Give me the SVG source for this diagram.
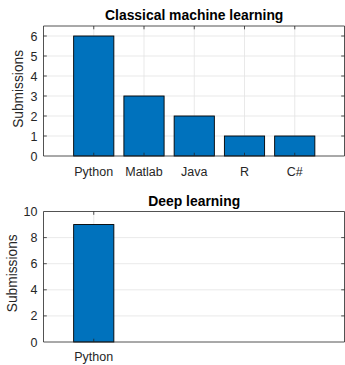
<svg xmlns="http://www.w3.org/2000/svg" width="345" height="365" viewBox="0 0 345 365">
<style>
.grid{stroke:#e3e3e3;stroke-width:0.8;fill:none}
.axis{stroke:#262626;stroke-width:0.8;fill:none}
.bar{fill:#0072BD;stroke:#000;stroke-width:0.9}
.tick{font-family:"Liberation Sans",Arial,sans-serif;font-size:12.5px;fill:#262626}
.title{font-family:"Liberation Sans",Arial,sans-serif;font-size:13.9px;font-weight:bold;fill:#000;text-anchor:middle}
.lab{font-family:"Liberation Sans",Arial,sans-serif;font-size:13.75px;fill:#262626;text-anchor:middle}
</style>
<rect width="345" height="365" fill="#fff"/>

<g id="chart-classical">
  <g id="grid-top">
    <path class="grid" d="M43.5 136H345M43.5 116H345M43.5 96H345M43.5 76H345M43.5 56H345M43.5 36H345M93.75 26V156M144 26V156M194.25 26V156M244.5 26V156M294.75 26V156"/>
  </g>
  <g id="bar-python"><rect class="bar" x="73.65" y="36" width="40.2" height="120"/></g>
  <g id="bar-matlab"><rect class="bar" x="123.9" y="96" width="40.2" height="60"/></g>
  <g id="bar-java"><rect class="bar" x="174.15" y="116" width="40.2" height="40"/></g>
  <g id="bar-r"><rect class="bar" x="224.4" y="136" width="40.2" height="20"/></g>
  <g id="bar-csharp"><rect class="bar" x="274.65" y="136" width="40.2" height="20"/></g>
  <g id="axes-top">
    <path class="axis" d="M43.5 26H344.5V156H43.5Z"/>
    <path class="axis" d="M43.5 136h3.3M43.5 116h3.3M43.5 96h3.3M43.5 76h3.3M43.5 56h3.3M43.5 36h3.3M344.5 136h-3.3M344.5 116h-3.3M344.5 96h-3.3M344.5 76h-3.3M344.5 56h-3.3M344.5 36h-3.3M93.75 156v-3.3M144 156v-3.3M194.25 156v-3.3M244.5 156v-3.3M294.75 156v-3.3M93.75 26v3.3M144 26v3.3M194.25 26v3.3M244.5 26v3.3M294.75 26v3.3"/>
  </g>
  <g id="yticks-top" class="tick" text-anchor="end">
    <text x="37.5" y="160.5">0</text>
    <text x="37.5" y="140.5">1</text>
    <text x="37.5" y="120.5">2</text>
    <text x="37.5" y="100.5">3</text>
    <text x="37.5" y="80.5">4</text>
    <text x="37.5" y="60.5">5</text>
    <text x="37.5" y="40.5">6</text>
  </g>
  <g id="xticks-top" class="tick" text-anchor="middle">
    <text x="93.75" y="175.5">Python</text>
    <text x="144" y="175.5">Matlab</text>
    <text x="194.25" y="175.5">Java</text>
    <text x="244.5" y="175.5">R</text>
    <text x="294.75" y="175.5">C#</text>
  </g>
  <text class="title" x="194.2" y="20">Classical machine learning</text>
  <text class="lab" transform="translate(23.3 88.9) rotate(-90)">Submissions</text>
</g>

<g id="chart-deep">
  <g id="grid-bottom">
    <path class="grid" d="M43.5 315.9H345M43.5 289.8H345M43.5 263.7H345M43.5 237.6H345M93.75 211.5V342"/>
  </g>
  <g id="bar-python-deep"><rect class="bar" x="73.65" y="224.55" width="40.2" height="117.45"/></g>
  <g id="axes-bottom">
    <path class="axis" d="M43.5 211.5H344.5V342H43.5Z"/>
    <path class="axis" d="M43.5 315.9h3.3M43.5 289.8h3.3M43.5 263.7h3.3M43.5 237.6h3.3M344.5 315.9h-3.3M344.5 289.8h-3.3M344.5 263.7h-3.3M344.5 237.6h-3.3M93.75 342v-3.3M93.75 211.5v3.3"/>
  </g>
  <g id="yticks-bottom" class="tick" text-anchor="end">
    <text x="37.5" y="346.5">0</text>
    <text x="37.5" y="320.4">2</text>
    <text x="37.5" y="294.3">4</text>
    <text x="37.5" y="268.2">6</text>
    <text x="37.5" y="242.1">8</text>
    <text x="37.5" y="216">10</text>
  </g>
  <g id="xticks-bottom" class="tick" text-anchor="middle">
    <text x="93.75" y="361">Python</text>
  </g>
  <text class="title" x="194.2" y="205.7">Deep learning</text>
  <text class="lab" transform="translate(17.3 273.3) rotate(-90)">Submissions</text>
</g>
</svg>
